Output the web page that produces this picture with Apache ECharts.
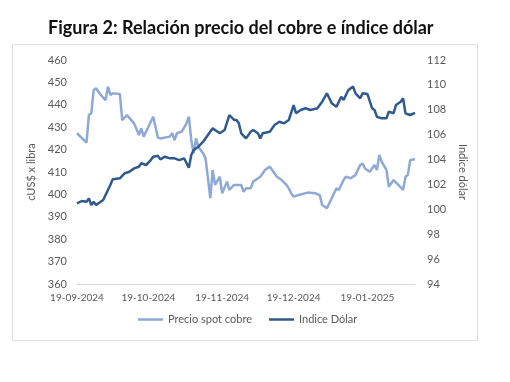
<!DOCTYPE html>
<html>
<head>
<meta charset="utf-8">
<script src="https://cdn.jsdelivr.net/npm/echarts@6/dist/echarts.min.js"></script>
<style>
html,body{margin:0;padding:0;background:#fff;}
#chart{width:510px;height:382px;}
</style>
</head>
<body>
<div id="chart"></div>
<script>
// Precio spot cobre (cUS$ x libra)
const copperDates = ['2024-09-19','2024-09-23','2024-09-24','2024-09-25','2024-09-26','2024-09-27','2024-09-29','2024-10-01','2024-10-02','2024-10-03','2024-10-04','2024-10-07','2024-10-08','2024-10-10','2024-10-13','2024-10-15','2024-10-16','2024-10-17','2024-10-19','2024-10-21','2024-10-23','2024-10-24','2024-10-28','2024-10-29','2024-10-30','2024-10-31','2024-11-02','2024-11-04','2024-11-05','2024-11-06','2024-11-07','2024-11-08','2024-11-09','2024-11-11','2024-11-12','2024-11-13','2024-11-14','2024-11-15','2024-11-16','2024-11-18','2024-11-19','2024-11-21','2024-11-22','2024-11-24','2024-11-27','2024-11-28','2024-11-29','2024-12-01','2024-12-02','2024-12-05','2024-12-07','2024-12-09','2024-12-10','2024-12-12','2024-12-14','2024-12-16','2024-12-17','2024-12-18','2024-12-19','2024-12-21','2024-12-25','2024-12-28','2024-12-30','2024-12-31','2025-01-02','2025-01-04','2025-01-06','2025-01-07','2025-01-09','2025-01-10','2025-01-12','2025-01-14','2025-01-16','2025-01-17','2025-01-18','2025-01-20','2025-01-22','2025-01-23','2025-01-24','2025-01-25','2025-01-27','2025-01-28','2025-01-30','2025-02-01','2025-02-03','2025-02-04','2025-02-05','2025-02-06','2025-02-08'];
const copperValues = [427.3,423.1,435.4,436.2,446.6,447.4,444.4,442.1,448.1,444.4,445.1,444.8,433.2,435.4,431.7,426.5,429.5,425.8,430.2,434.7,425.4,425.0,425.8,427.3,424.3,427.3,428.0,431.7,434.7,424.3,418.3,425.0,421.3,418.3,416.1,407.5,398.3,410.9,404.2,407.9,400.5,405.7,402.0,404.2,404.2,401.2,402.7,402.7,405.7,407.9,410.9,412.4,410.9,407.9,406.4,404.2,402.7,400.5,399.0,399.7,400.8,400.5,399.7,395.3,393.8,398.3,402.7,402.0,406.4,407.9,407.2,408.7,413.1,413.8,411.6,410.1,413.1,410.9,417.6,414.6,410.9,403.4,406.4,404.2,402.0,407.9,408.7,415.4,415.7];

// Indice Dólar
const dollarDates = ['2024-09-19','2024-09-21','2024-09-23','2024-09-24','2024-09-25','2024-09-26','2024-09-27','2024-09-30','2024-10-03','2024-10-04','2024-10-07','2024-10-09','2024-10-11','2024-10-13','2024-10-15','2024-10-16','2024-10-18','2024-10-20','2024-10-21','2024-10-23','2024-10-24','2024-10-26','2024-10-28','2024-10-30','2024-11-01','2024-11-03','2024-11-05','2024-11-06','2024-11-07','2024-11-09','2024-11-11','2024-11-13','2024-11-15','2024-11-16','2024-11-18','2024-11-20','2024-11-22','2024-11-24','2024-11-25','2024-11-26','2024-11-27','2024-11-29','2024-12-01','2024-12-02','2024-12-04','2024-12-05','2024-12-06','2024-12-09','2024-12-11','2024-12-13','2024-12-15','2024-12-17','2024-12-19','2024-12-20','2024-12-22','2024-12-24','2024-12-26','2024-12-29','2024-12-31','2025-01-02','2025-01-03','2025-01-04','2025-01-06','2025-01-08','2025-01-09','2025-01-11','2025-01-13','2025-01-14','2025-01-16','2025-01-17','2025-01-19','2025-01-21','2025-01-22','2025-01-23','2025-01-25','2025-01-27','2025-01-28','2025-01-30','2025-01-31','2025-02-02','2025-02-03','2025-02-04','2025-02-06','2025-02-08'];
const dollarValues = [100.48,100.67,100.61,100.88,100.34,100.61,100.34,100.75,101.95,102.41,102.49,102.89,103.02,103.29,103.42,103.70,103.56,103.96,104.23,104.30,104.01,104.23,104.10,104.10,103.96,104.10,103.34,104.36,104.77,105.03,105.43,105.97,106.51,106.37,106.11,106.37,107.58,107.18,107.18,106.91,106.11,105.70,106.24,106.37,106.11,105.70,106.11,106.24,106.77,107.04,106.91,107.18,108.38,107.72,107.98,108.12,107.98,108.12,108.65,109.32,108.92,108.52,108.25,109.05,108.78,109.59,109.86,109.32,108.92,109.32,109.27,108.12,107.98,107.44,107.31,107.31,107.85,107.72,108.38,108.65,108.92,107.72,107.58,107.76];

const xTickDates = ['2024-09-19','2024-10-19','2024-11-19','2024-12-19','2025-01-19'];
const xMin = '2024-09-19';
const xMax = '2025-02-08';

const titleText = 'Figura 2: Relación precio del cobre e índice dólar';
const leftAxisName = 'cUS$ x libra';
const rightAxisName = 'Indice dólar';
const copperName = 'Precio spot cobre';
const dollarName = 'Indice Dólar';

function toTime(s){const p=s.split('-');return new Date(+p[0],+p[1]-1,+p[2]).getTime();}
function pad(n){return (n<10?'0':'')+n;}
function fmtDate(v){const d=new Date(v);return pad(d.getDate())+'-'+pad(d.getMonth()+1)+'-'+d.getFullYear();}

const FONT = 'Lato, "Open Sans", sans-serif';
const chart = echarts.init(document.getElementById('chart'), null, {renderer:'canvas'});
chart.setOption({
  animation:false,
  backgroundColor:'#ffffff',
  textStyle:{fontFamily:FONT},
  title:{
    text:titleText,
    left:43, top:14,
    textStyle:{fontFamily:FONT, fontWeight:'bold', fontSize:18, color:'#111111'}
  },
  graphic:[{
    type:'rect', shape:{x:12.5,y:44.5,width:465,height:296},
    style:{fill:'none', stroke:'#e0e0e0', lineWidth:1}, silent:true, z:-1
  }],
  legend:{
    left:133, top:309,
    icon:'rect', itemWidth:25, itemHeight:2.5, itemGap:17,
    textStyle:{fontFamily:FONT, fontSize:11, color:'#595959'},
    data:[copperName, dollarName]
  },
  grid:{left:77, right:95, top:60, bottom:98, containLabel:false},
  xAxis:{
    type:'value', min:toTime(xMin), max:toTime(xMax),
    axisLine:{show:true, lineStyle:{color:'#d9d9d9', width:1}},
    axisTick:{show:false},
    splitLine:{show:false},
    axisLabel:{
      customValues:xTickDates.map(toTime), formatter:fmtDate,
      fontFamily:FONT, fontSize:10, color:'#595959', margin:9,
      hideOverlap:false
    }
  },
  yAxis:[{
    type:'value', min:360, max:460, interval:10, position:'left',
    name:leftAxisName, nameLocation:'middle', nameGap:35, nameRotate:90,
    nameTextStyle:{fontFamily:FONT, fontSize:11, color:'#595959'},
    axisLine:{show:false}, axisTick:{show:false}, splitLine:{show:false},
    axisLabel:{fontFamily:FONT, fontSize:11, color:'#595959', margin:10}
  },{
    type:'value', min:94, max:112, interval:2, position:'right',
    name:rightAxisName, nameLocation:'middle', nameGap:31, nameRotate:-90,
    nameTextStyle:{fontFamily:FONT, fontSize:11, color:'#595959'},
    axisLine:{show:false}, axisTick:{show:false}, splitLine:{show:false},
    axisLabel:{fontFamily:FONT, fontSize:11, color:'#595959', margin:12}
  }],
  series:[{
    name:copperName, type:'line', yAxisIndex:0, symbol:'none',
    lineStyle:{color:'#8FA9D6', width:2.5}, itemStyle:{color:'#8FA9D6'},
    data:copperDates.map((d,i)=>[toTime(d), copperValues[i]])
  },{
    name:dollarName, type:'line', yAxisIndex:1, symbol:'none',
    lineStyle:{color:'#305A8E', width:2.5}, itemStyle:{color:'#305A8E'},
    data:dollarDates.map((d,i)=>[toTime(d), dollarValues[i]])
  }]
});
</script>
</body>
</html>
